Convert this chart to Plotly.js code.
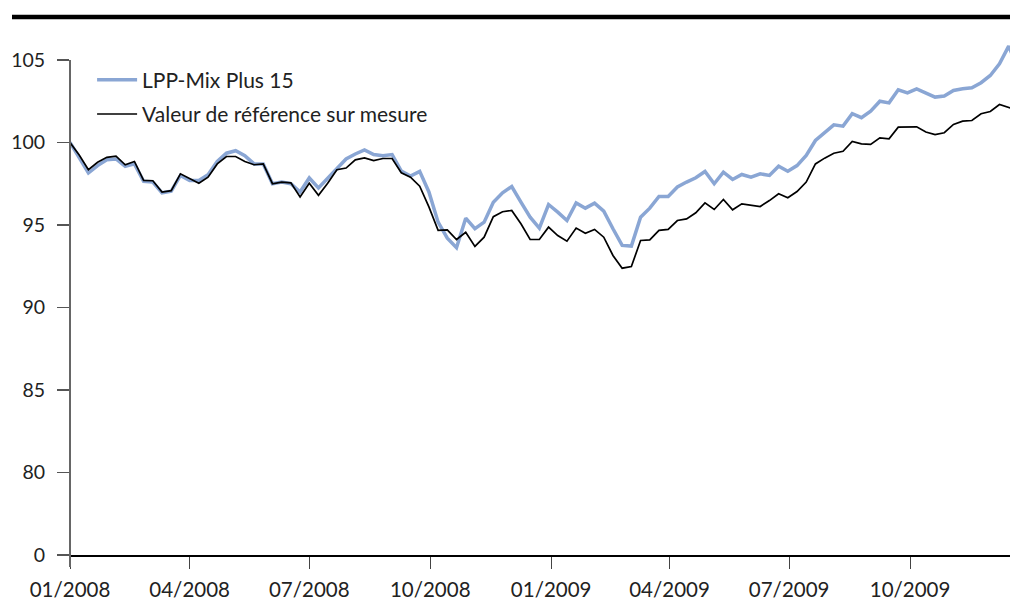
<!DOCTYPE html>
<html>
<head>
<meta charset="utf-8">
<script src="https://cdn.plot.ly/plotly-3.0.1.min.js"></script>
<style>html,body{margin:0;padding:0;background:#fff;}#chart{width:1010px;height:600px;}</style>
</head>
<body>
<div id="chart"></div>
<script>
// Weekly observations starting 2008-01-01
const startDate = "2008-01-01";
const seriesNames = ["LPP-Mix Plus 15", "Valeur de référence sur mesure"];
const lppMix = [
100.0, 99.1, 98.15, 98.6, 98.95, 99.0, 98.55, 98.7, 97.65, 97.6,
96.95, 97.05, 98.0, 97.7, 97.7, 98.05, 98.85, 99.35, 99.5, 99.2,
98.7, 98.7, 97.5, 97.6, 97.5, 97.0, 97.85, 97.25, 97.85, 98.45,
99.0, 99.3, 99.55, 99.27, 99.2, 99.27, 98.27, 97.96, 98.25, 97.0,
95.17, 94.2, 93.62, 95.41, 94.77, 95.17, 96.38, 96.95, 97.33, 96.38,
95.47, 94.81, 96.24, 95.78, 95.27, 96.34, 96.02, 96.32, 95.84, 94.77,
93.76, 93.72, 95.47, 96.02, 96.73, 96.73, 97.3, 97.6, 97.86, 98.24,
97.5, 98.2, 97.76, 98.06, 97.9, 98.1, 98.0, 98.56, 98.26, 98.6,
99.21, 100.12, 100.59, 101.07, 100.99, 101.74, 101.5, 101.9, 102.5, 102.4,
103.19, 103.0, 103.25, 102.99, 102.75, 102.81, 103.15, 103.25, 103.31, 103.62,
104.06, 104.77, 105.84, 104.5
];
const benchmark = [
100.0, 99.24, 98.35, 98.8, 99.1, 99.17, 98.65, 98.85, 97.7, 97.68,
97.0, 97.08, 98.1, 97.83, 97.53, 97.9, 98.7, 99.15, 99.15, 98.85,
98.65, 98.7, 97.5, 97.6, 97.55, 96.7, 97.53, 96.8, 97.53, 98.35,
98.45, 98.95, 99.07, 98.9, 99.03, 99.03, 98.16, 97.9, 97.35, 96.1,
94.67, 94.7, 94.12, 94.56, 93.7, 94.26, 95.5, 95.8, 95.88, 95.07,
94.12, 94.12, 94.87, 94.36, 94.02, 94.81, 94.5, 94.73, 94.26, 93.15,
92.38, 92.48, 94.06, 94.1, 94.67, 94.73, 95.27, 95.37, 95.74, 96.34,
95.94, 96.55, 95.92, 96.28, 96.18, 96.12, 96.48, 96.89, 96.65, 97.03,
97.6, 98.7, 99.05, 99.35, 99.47, 100.06, 99.92, 99.88, 100.28, 100.22,
100.93, 100.93, 100.95, 100.63, 100.48, 100.59, 101.09, 101.29, 101.33, 101.74,
101.88, 102.3, 102.1, 101.95
];
const xTickVals = ["2008-01-01", "2008-04-01", "2008-07-01", "2008-10-01", "2009-01-01", "2009-04-01", "2009-07-01", "2009-10-01"];
const xTickText = ["01/2008", "04/2008", "07/2008", "10/2008", "01/2009", "04/2009", "07/2009", "10/2009"];
const yTickVals = [75, 80, 85, 90, 95, 100, 105];
const yTickText = ["0", "80", "85", "90", "95", "100", "105"];

function weeklyDates(start, n) {
  const out = [];
  const d0 = new Date(start + "T00:00:00Z");
  for (let i = 0; i < n; i++) {
    const d = new Date(d0.getTime() + i * 7 * 86400000);
    out.push(d.toISOString().slice(0, 10));
  }
  return out;
}
const dates = weeklyDates(startDate, lppMix.length);

const FONT = "Lato, 'Open Sans', sans-serif";

const traces = [
  {x: dates, y: lppMix, name: seriesNames[0], type: "scatter", mode: "lines",
   line: {color: "#8aa6d4", width: 3.5}, legendgroup: "a"},
  {x: dates, y: benchmark, name: seriesNames[1], type: "scatter", mode: "lines",
   line: {color: "#000000", width: 1.7}, legendgroup: "b"}
];

const layout = {
  width: 1010, height: 600,
  margin: {l: 70, r: 0, t: 40, b: 45, pad: 0},
  paper_bgcolor: "#fff", plot_bgcolor: "#fff",
  font: {family: FONT, size: 19, color: "#222"},
  showlegend: true,
  legend: {x: 0.0235, y: 0.962, xanchor: "left", yanchor: "top",
           bgcolor: "rgba(0,0,0,0)", font: {family: FONT, size: 21, color: "#222"},
           itemwidth: 40, traceorder: "grouped", tracegroupgap: 4},
  xaxis: {type: "date", range: ["2008-01-01", "2009-12-16"],
          tickvals: xTickVals, ticktext: xTickText,
          ticks: "outside", ticklen: 12, tickcolor: "#444", tickwidth: 1,
          ticklabelstandoff: 4,
          showline: true, linecolor: "#000", linewidth: 1.5,
          showgrid: false, zeroline: false,
          tickfont: {family: FONT, size: 20.5, color: "#222"}},
  yaxis: {range: [75, 106.21], tickvals: yTickVals, ticktext: yTickText,
          ticks: "outside", ticklen: 12, tickcolor: "#555", tickwidth: 1.5,
          ticklabelstandoff: 8,
          showline: false, showgrid: false, zeroline: false,
          tickfont: {family: FONT, size: 19.5, color: "#222"}},
  shapes: [
    {type: "line", xref: "paper", yref: "y", x0: 0, x1: 0, y0: 75, y1: 105,
     line: {color: "#666", width: 2}},
    {type: "line", xref: "paper", yref: "paper", x0: 0, x1: 0, y0: 0, y1: -0.0233,
     line: {color: "#666", width: 2}},
    {type: "line", xref: "paper", yref: "paper", x0: -0.0617, x1: 1, y0: 1.0447, y1: 1.0447,
     line: {color: "#000", width: 4.5}}
  ]
};

Plotly.newPlot("chart", traces, layout, {staticPlot: true, displayModeBar: false});
</script>
</body>
</html>
